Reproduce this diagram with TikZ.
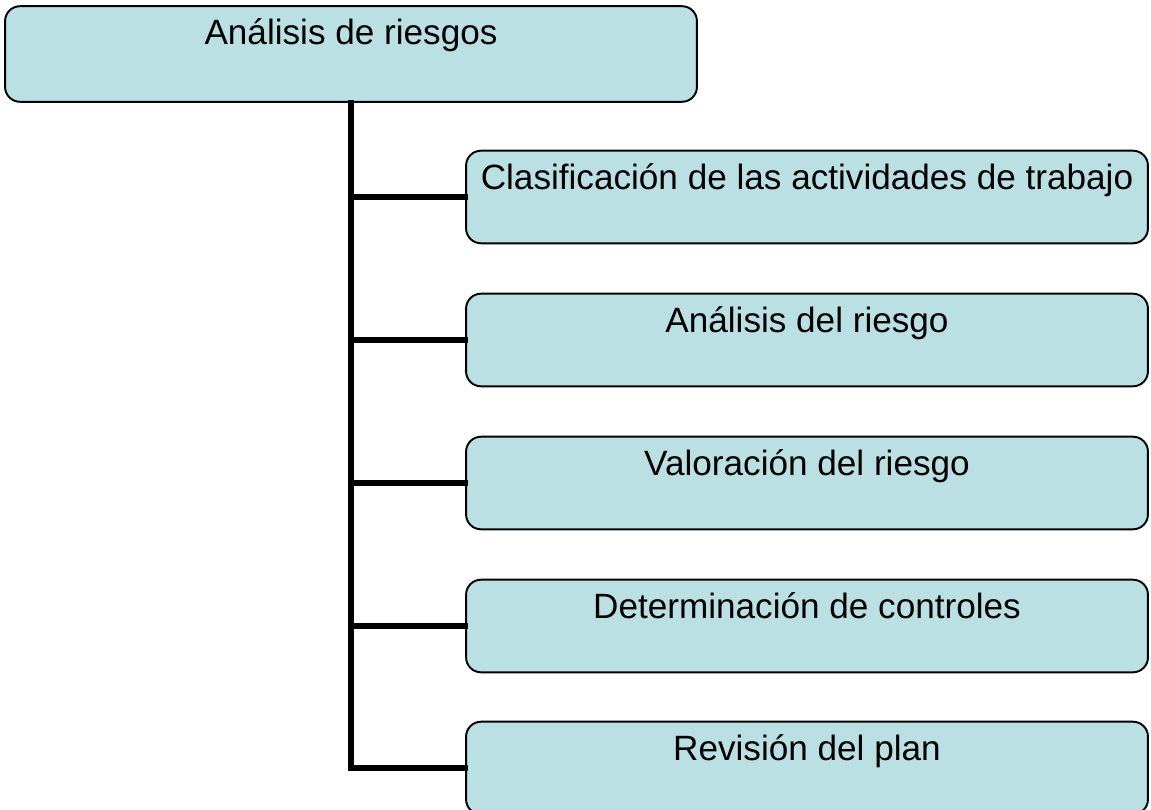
\documentclass[tikz,border=0pt]{standalone}
\usepackage{fontspec}
\setmainfont{Liberation Sans}
\usepackage{tikz}

\definecolor{boxfill}{RGB}{187,224,227}

\tikzset{
  riskbox/.style={draw=black, line width=1.1pt, fill=boxfill, rounded corners=8.5pt,
    font=\fontsize{20}{24}\selectfont, inner xsep=2pt, inner ysep=7.5pt,
    text height=14.5pt, text depth=#1, minimum width=13.64cm},
  riskbox/.default=23.2pt,
  branch/.style={line width=3.3pt, line cap=rect}
}

\begin{document}
\begin{tikzpicture}[x=0.02cm, y=-0.02cm]
            \useasboundingbox (0,0) rectangle (1151,810);
            \clip (0,0) rectangle (1151,810);

            \node[riskbox=24.9pt, minimum width=13.84cm] (top) at (351,54) {Análisis de riesgos};

            \node[riskbox] (clas) at (807,197) {Clasificación de las actividades de trabajo};
            \node[riskbox] (anal) at (807,340) {Análisis del riesgo};
            \node[riskbox] (valo) at (807,483) {Valoración del riesgo};
            \node[riskbox] (dete) at (807,626) {Determinación de controles};
            \node[riskbox] (revi) at (807,768) {Revisión del plan};

            \draw[branch] (top.south) |- (revi.west);
            \draw[branch] (top.south |- clas.west) -- (clas.west);
            \draw[branch] (top.south |- anal.west) -- (anal.west);
            \draw[branch] (top.south |- valo.west) -- (valo.west);
            \draw[branch] (top.south |- dete.west) -- (dete.west);
        \end{tikzpicture}
\end{document}
